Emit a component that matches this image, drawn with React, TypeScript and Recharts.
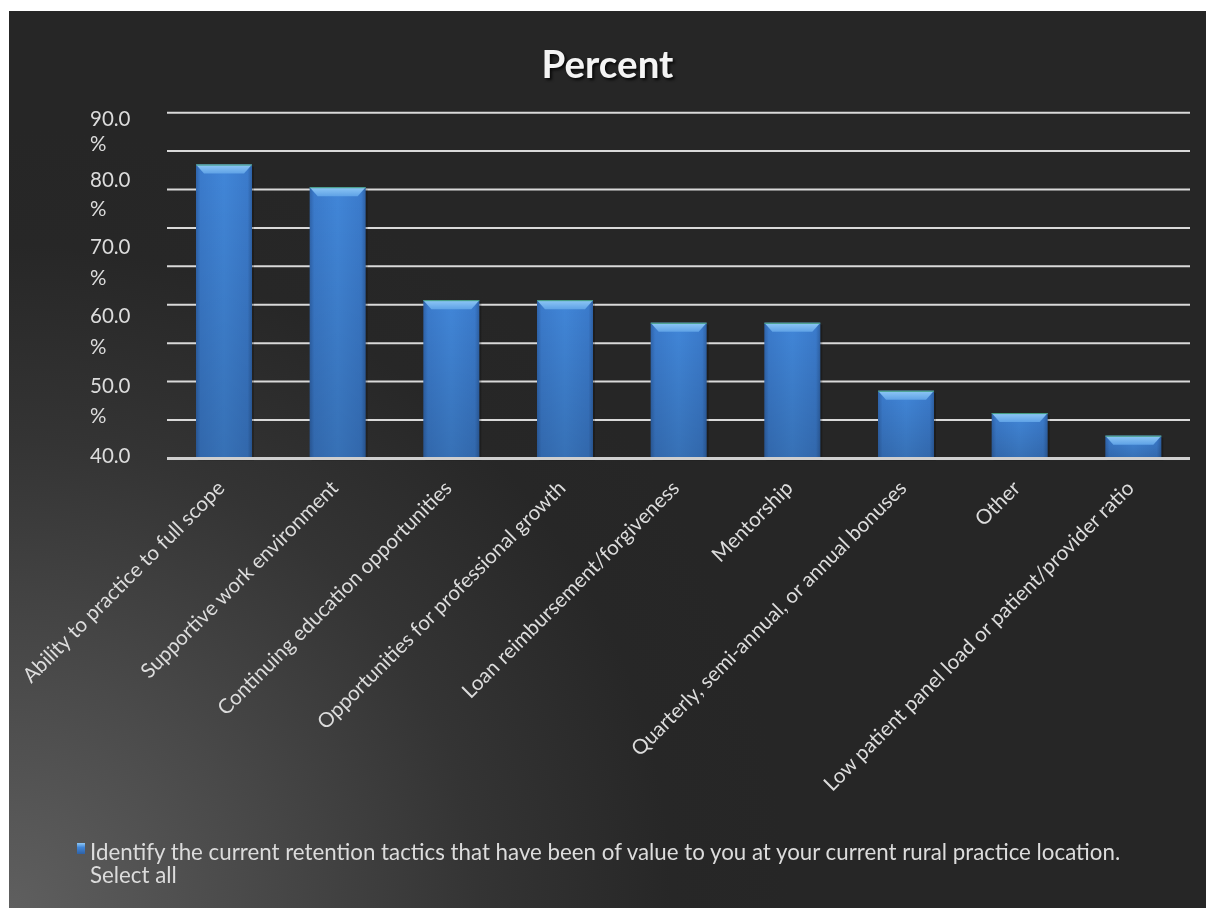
import React from 'react';
import { BarChart, Bar, XAxis, YAxis, CartesianGrid } from 'recharts';

// Survey answers (n = 17), percent of respondents
const tactics = [
  'Ability to practice to full scope',
  'Supportive work environment',
  'Continuing education opportunities',
  'Opportunities for professional growth',
  'Loan reimbursement/forgiveness',
  'Mentorship',
  'Quarterly, semi-annual, or annual bonuses',
  'Other',
  'Low patient panel load or patient/provider ratio',
];
const percents = [76.5, 70.6, 41.2, 41.2, 35.3, 35.3, 17.6, 11.8, 5.9];

const gridTicks = [0, 10, 20, 30, 40, 50, 60, 70, 80, 90];
// the axis labels as they show in the picture (wrapped and shifted)
const labelTicks = [90, 70, 50, 30, 10, 0];
const labelNumbers = ['90.0', '80.0', '70.0', '60.0', '50.0', '40.0'];
const labelUnit = '%';

const seriesName =
  'Identify the current retention tactics that have been of value to you at your current rural practice location. Select all';

const data = tactics.map((name, i) => ({ name, value: percents[i] }));

const FONT = 'Lato, "Open Sans", sans-serif';
const TEXT = '#dcdcdc';

// vertical offsets of the wrapped labels from their tick
const numberDy = [5, -11, -20, -28, -35, -3];
const unitDy = [30, 18, 11, 3, -5];

const YTick = (props: any) => {
  const { y, payload } = props;
  const i = labelTicks.indexOf(payload.value);
  if (i < 0) return null;
  return (
    <g>
      <text x={81} y={y + numberDy[i]} fill={TEXT} fontSize={20.5} fontFamily={FONT} dominantBaseline="central">
        {labelNumbers[i]}
      </text>
      {i < labelTicks.length - 1 && (
        <text x={81} y={y + unitDy[i]} fill={TEXT} fontSize={20.5} fontFamily={FONT} dominantBaseline="central">
          {labelUnit}
        </text>
      )}
    </g>
  );
};

const XTick = (props: any) => {
  const { x, y, payload } = props;
  const tx = x + 2;
  const ty = y + 31;
  return (
    <text
      x={tx}
      y={ty}
      transform={`rotate(-45, ${tx}, ${ty})`}
      textAnchor="end"
      fill={TEXT}
      fontSize={20.6}
      fontFamily={FONT}
    >
      {payload.value}
    </text>
  );
};

const BevelBar = (props: any) => {
  const { x, y, width, height } = props;
  if (!height || height <= 0) return null;
  const b = Math.min(9, height);
  return (
    <g>
      <rect x={x + 2} y={y + 2} width={width} height={height} fill="rgba(0,0,0,0.22)" />
      <rect x={x} y={y} width={width} height={height} fill="url(#barBody)" />
      <rect x={x} y={y} width={width} height={height} fill="url(#barShade)" />
      <polygon
        points={`${x},${y} ${x + width},${y} ${x + width - 8},${y + b} ${x + 8},${y + b}`}
        fill="url(#barTop)"
      />
      <line x1={x} y1={y + 0.5} x2={x + width} y2={y + 0.5} stroke="#3f9a7a" strokeWidth={1} />
    </g>
  );
};

export default function App() {
  return (
    <div
      style={{
        position: 'fixed',
        left: 9,
        top: 11,
        width: 1197,
        height: 897,
        overflow: 'hidden',
        background:
          'radial-gradient(circle 780px at 0% 100%, #5f5f5f 0%, #4a4a4a 30%, #343434 60%, #272727 85%, #262626 100%)',
        fontFamily: FONT,
      }}
    >
      <div
        style={{
          position: 'absolute',
          top: 29,
          left: 0,
          width: 1197,
          textAlign: 'center',
          color: '#f4f4f4',
          fontWeight: 700,
          fontSize: 38.5,
          textShadow: '2px 2px 3px rgba(0,0,0,0.8)',
        }}
      >
        Percent
      </div>

      <BarChart
        width={1197}
        height={897}
        data={data}
        margin={{ top: 101.7, right: 16, bottom: 0, left: 0 }}
      >
        <defs>
          <linearGradient id="barBody" x1="0" y1="0" x2="1" y2="0">
            <stop offset="0%" stopColor="#2f64ab" />
            <stop offset="8%" stopColor="#3b7bcc" />
            <stop offset="50%" stopColor="#4186d8" />
            <stop offset="92%" stopColor="#3b7bcc" />
            <stop offset="100%" stopColor="#2e61a5" />
          </linearGradient>
          <linearGradient id="barShade" x1="0" y1="0" x2="0" y2="1">
            <stop offset="0%" stopColor="rgba(0,0,0,0)" />
            <stop offset="100%" stopColor="rgba(0,0,0,0.16)" />
          </linearGradient>
          <linearGradient id="barTop" x1="0" y1="0" x2="0" y2="1">
            <stop offset="0%" stopColor="#8fc8f6" />
            <stop offset="100%" stopColor="#5fa2e6" />
          </linearGradient>
        </defs>
        <CartesianGrid vertical={false} stroke="#d9d9d9" strokeWidth={2} />
        <XAxis
          dataKey="name"
          interval={0}
          height={449.6}
          tickLine={false}
          tickSize={0}
          tickMargin={0}
          axisLine={{ stroke: '#cfcfcf', strokeWidth: 3 }}
          tick={<XTick />}
        />
        <YAxis
          width={158}
          domain={[0, 90]}
          ticks={gridTicks}
          axisLine={false}
          tickLine={false}
          tick={<YTick />}
        />
        <Bar dataKey="value" name={seriesName} barSize={56} shape={<BevelBar />} isAnimationActive={false} />
      </BarChart>

      <div
        style={{
          position: 'absolute',
          left: 68,
          top: 832,
          width: 8,
          height: 11,
          background: 'linear-gradient(#8fc8f6 0%, #4186d8 40%, #2e61a5 100%)',
        }}
      />
      <div
        style={{
          position: 'absolute',
          left: 81,
          top: 829,
          width: 1060,
          color: TEXT,
          fontSize: 22.3,
          lineHeight: '23px',
        }}
      >
        {seriesName}
      </div>
    </div>
  );
}
